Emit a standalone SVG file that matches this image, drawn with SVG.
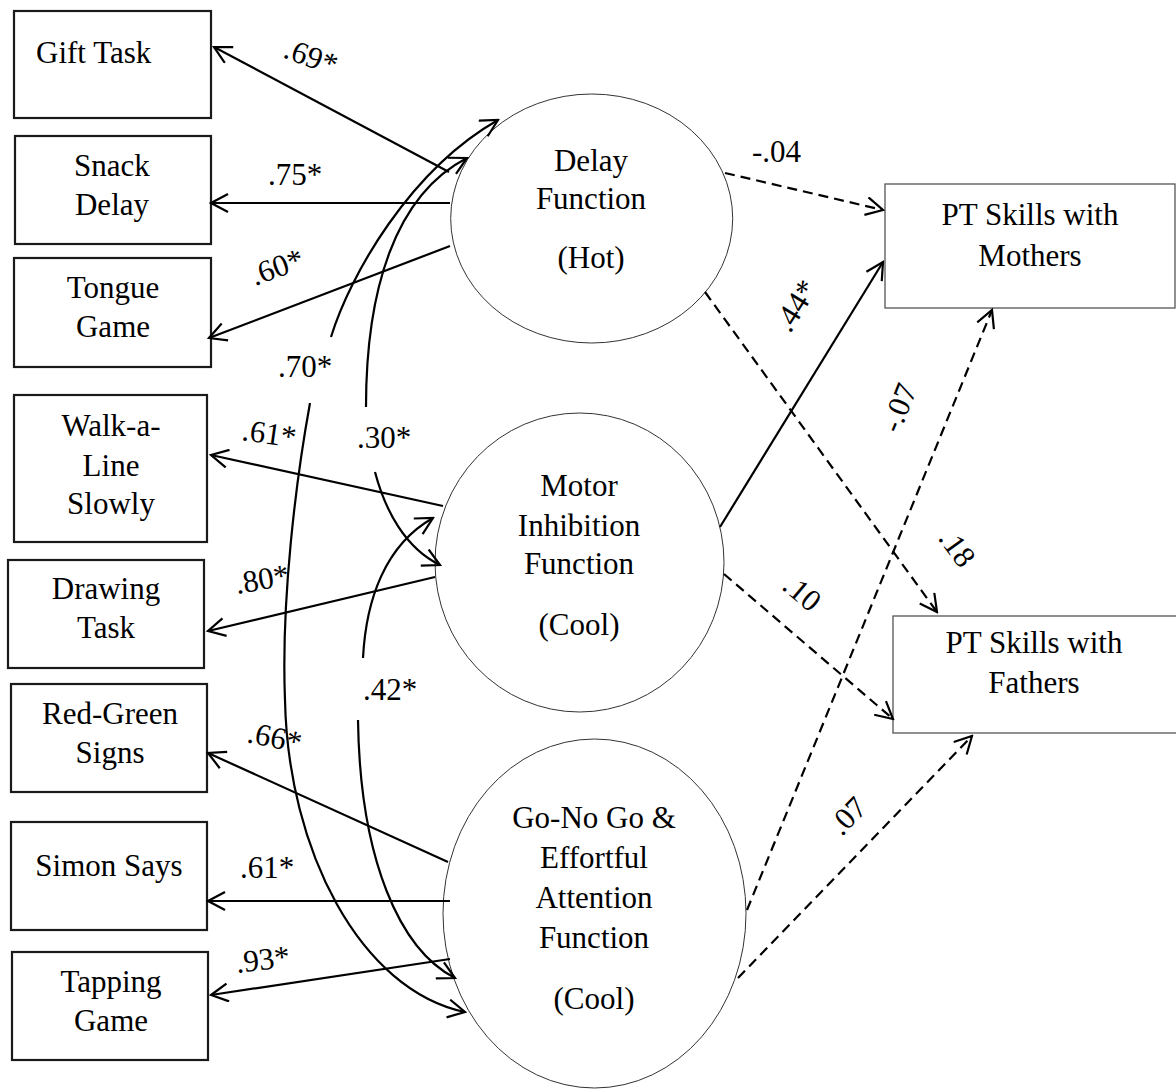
<svg xmlns="http://www.w3.org/2000/svg" width="1176" height="1089" viewBox="0 0 1176 1089">
<style>
text{font-family:"Liberation Serif","Times New Roman",serif;font-size:31px;fill:#000}
.c{text-anchor:middle}
.box{fill:#fff;stroke:#1a1a1a;stroke-width:2.2}
.rbox{fill:#fff;stroke:#555;stroke-width:1.3}
.ell{fill:#fff;stroke:#333;stroke-width:1}
.ln{fill:none;stroke:#000;stroke-width:2.2;marker-end:url(#arr)}
.ds{stroke-dasharray:10 6}
</style>
<defs>
<marker id="arr" viewBox="0 0 20 20" refX="18" refY="10" markerWidth="20" markerHeight="20" markerUnits="userSpaceOnUse" orient="auto">
<path d="M1,1 L18,10 L1,19" fill="none" stroke="#000" stroke-width="2.2" stroke-dasharray="none"/>
</marker>
</defs>
<rect width="1176" height="1089" fill="#fff"/>

<g id="gift"><rect class="box" x="14" y="11" width="197" height="107"/><text x="36" y="63">Gift Task</text></g>
<g id="snack"><rect class="box" x="15" y="136" width="196" height="108"/><text class="c" x="112" y="176">Snack</text><text class="c" x="112" y="215">Delay</text></g>
<g id="tongue"><rect class="box" x="14" y="258" width="197" height="109"/><text class="c" x="113" y="298">Tongue</text><text class="c" x="113" y="337">Game</text></g>
<g id="walk"><rect class="box" x="14" y="395" width="193" height="147"/><text class="c" x="111" y="436">Walk-a-</text><text class="c" x="111" y="476">Line</text><text class="c" x="111" y="514">Slowly</text></g>
<g id="drawing"><rect class="box" x="8" y="560" width="196" height="108"/><text class="c" x="106" y="599">Drawing</text><text class="c" x="106" y="638">Task</text></g>
<g id="redgreen"><rect class="box" x="11" y="684" width="196" height="108"/><text class="c" x="110" y="724">Red-Green</text><text class="c" x="110" y="763">Signs</text></g>
<g id="simon"><rect class="box" x="11" y="822" width="196" height="108"/><text class="c" x="109" y="876">Simon Says</text></g>
<g id="tapping"><rect class="box" x="12" y="952" width="196" height="108"/><text class="c" x="111" y="992">Tapping</text><text class="c" x="111" y="1031">Game</text></g>

<g id="delay"><ellipse class="ell" cx="591.7" cy="218.5" rx="141" ry="124.5"/><text class="c" x="591" y="171">Delay</text><text class="c" x="591" y="209">Function</text><text class="c" x="591" y="268">(Hot)</text></g>
<g id="motor"><ellipse class="ell" cx="579.5" cy="562.5" rx="144.5" ry="149.5"/><text class="c" x="579" y="496">Motor</text><text class="c" x="579" y="536">Inhibition</text><text class="c" x="579" y="574">Function</text><text class="c" x="579" y="635">(Cool)</text></g>
<g id="gonogo"><ellipse class="ell" cx="594.5" cy="913.5" rx="151.5" ry="174.5"/><text class="c" x="594" y="828">Go-No Go &amp;</text><text class="c" x="594" y="868">Effortful</text><text class="c" x="594" y="908">Attention</text><text class="c" x="594" y="948">Function</text><text class="c" x="594" y="1009">(Cool)</text></g>

<g id="mothers"><rect class="rbox" x="885" y="184" width="290" height="124"/><text class="c" x="1030" y="225">PT Skills with</text><text class="c" x="1030" y="266">Mothers</text></g>
<g id="fathers"><rect class="rbox" x="893" y="616" width="290" height="117"/><text class="c" x="1034" y="653">PT Skills with</text><text class="c" x="1034" y="693">Fathers</text></g>

<g id="connectors">
<path class="ln" d="M449,172 L214,47"/>
<path class="ln" d="M450,203 L211,203"/>
<path class="ln" d="M450,246 L209,338"/>
<path class="ln" d="M443,506 L211,455"/>
<path class="ln" d="M435,577 L208,631"/>
<path class="ln" d="M448,862 L208,753"/>
<path class="ln" d="M450,901 L208,901"/>
<path class="ln" d="M450,959 L211,995"/>

<path class="ln" d="M331,337 C350,275 410,170 498,120"/>
<path class="ln" d="M310,403 C296,480 281,600 285,700 C288,850 360,990 465,1012"/>
<path class="ln" d="M366,407 C366,290 395,195 467,158"/>
<path class="ln" d="M375,472 C385,510 405,548 440,565"/>
<path class="ln" d="M363,658 C366,600 385,545 433,518"/>
<path class="ln" d="M358,720 C360,860 400,950 455,978"/>

<path class="ln ds" d="M725,173 L883,210"/>
<path class="ln ds" d="M705,292 L937,612"/>
<path class="ln" d="M720,527 L883,262"/>
<path class="ln ds" d="M724,574 L893,719"/>
<path class="ln ds" d="M747,910 L992,310"/>
<path class="ln ds" d="M738,978 L972,736"/>
</g>

<g id="labels">
<text x="282" y="57" transform="rotate(20 282 57)">.69*</text>
<text x="268" y="185">.75*</text>
<text x="255" y="286" transform="rotate(-20 255 286)">.60*</text>
<text x="278" y="377">.70*</text>
<text x="241" y="440" transform="rotate(8 241 440)">.61*</text>
<text x="357" y="448">.30*</text>
<text x="237" y="594" transform="rotate(-10 237 594)">.80*</text>
<text x="363" y="700">.42*</text>
<text x="246" y="742" transform="rotate(12 246 742)">.66*</text>
<text x="240" y="878">.61*</text>
<text x="237" y="973" transform="rotate(-7 237 973)">.93*</text>
<text x="752" y="162">-.04</text>
<text x="790" y="334" transform="rotate(-58 790 334)">.44*</text>
<text class="c" x="0" y="10" transform="translate(899 408) rotate(-68)">-.07</text>
<text class="c" x="0" y="10" transform="translate(957 548) rotate(54)">.18</text>
<text class="c" x="0" y="10" transform="translate(802 593) rotate(40)">.10</text>
<text class="c" x="0" y="10" transform="translate(848 816) rotate(-46)">.07</text>
</g>
</svg>
